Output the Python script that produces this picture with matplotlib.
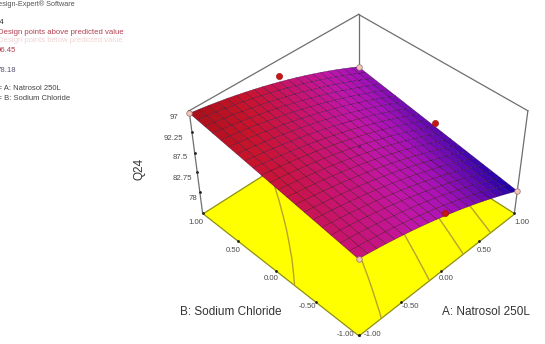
import numpy as np
import matplotlib
matplotlib.use("Agg")
import matplotlib.pyplot as plt
from matplotlib.colors import LinearSegmentedColormap
from mpl_toolkits.mplot3d import proj3d
from mpl_toolkits.mplot3d.art3d import Poly3DCollection

plt.rcParams['font.family'] = ['Liberation Sans', 'DejaVu Sans']

natrosol = [-1.0, -0.9, -0.8, -0.7, -0.6, -0.5, -0.4, -0.3, -0.2, -0.1, 0.0,
            0.1, 0.2, 0.3, 0.4, 0.5, 0.6, 0.7, 0.8, 0.9, 1.0]
sodium = [-1.0, -0.9, -0.8, -0.7, -0.6, -0.5, -0.4, -0.3, -0.2, -0.1, 0.0,
          0.1, 0.2, 0.3, 0.4, 0.5, 0.6, 0.7, 0.8, 0.9, 1.0]
# Q24 response, one row per Natrosol level, one column per sodium chloride level
q24 = [
    [91.01, 91.28, 91.55, 91.82, 92.10, 92.37, 92.64, 92.91, 93.19, 93.46, 93.73, 94.00, 94.28, 94.55, 94.82, 95.09, 95.37, 95.64, 95.91, 96.18, 96.45],
    [90.65, 90.92, 91.20, 91.47, 91.75, 92.02, 92.30, 92.57, 92.85, 93.12, 93.40, 93.67, 93.95, 94.22, 94.50, 94.77, 95.05, 95.32, 95.60, 95.87, 96.15],
    [90.26, 90.54, 90.82, 91.09, 91.37, 91.65, 91.93, 92.20, 92.48, 92.76, 93.04, 93.31, 93.59, 93.87, 94.15, 94.42, 94.70, 94.98, 95.26, 95.53, 95.81],
    [89.85, 90.13, 90.41, 90.69, 90.97, 91.25, 91.52, 91.80, 92.08, 92.36, 92.64, 92.92, 93.20, 93.48, 93.76, 94.04, 94.32, 94.60, 94.88, 95.16, 95.44],
    [89.40, 89.68, 89.96, 90.25, 90.53, 90.81, 91.09, 91.38, 91.66, 91.94, 92.22, 92.50, 92.79, 93.07, 93.35, 93.63, 93.92, 94.20, 94.48, 94.76, 95.05],
    [88.92, 89.21, 89.49, 89.78, 90.06, 90.35, 90.63, 90.92, 91.20, 91.49, 91.77, 92.05, 92.34, 92.62, 92.91, 93.19, 93.48, 93.76, 94.05, 94.33, 94.62],
    [88.42, 88.70, 88.99, 89.28, 89.57, 89.85, 90.14, 90.43, 90.71, 91.00, 91.29, 91.58, 91.86, 92.15, 92.44, 92.72, 93.01, 93.30, 93.59, 93.87, 94.16],
    [87.88, 88.17, 88.46, 88.75, 89.04, 89.33, 89.62, 89.91, 90.20, 90.49, 90.78, 91.07, 91.36, 91.65, 91.94, 92.22, 92.51, 92.80, 93.09, 93.38, 93.67],
    [87.31, 87.60, 87.90, 88.19, 88.48, 88.77, 89.06, 89.36, 89.65, 89.94, 90.23, 90.53, 90.82, 91.11, 91.40, 91.69, 91.99, 92.28, 92.57, 92.86, 93.16],
    [86.72, 87.01, 87.31, 87.60, 87.89, 88.19, 88.48, 88.78, 89.07, 89.37, 89.66, 89.96, 90.25, 90.55, 90.84, 91.13, 91.43, 91.72, 92.02, 92.31, 92.61],
    [86.09, 86.39, 86.68, 86.98, 87.28, 87.58, 87.87, 88.17, 88.47, 88.76, 89.06, 89.36, 89.65, 89.95, 90.25, 90.55, 90.84, 91.14, 91.44, 91.73, 92.03],
    [85.43, 85.73, 86.03, 86.33, 86.63, 86.93, 87.23, 87.53, 87.83, 88.13, 88.43, 88.73, 89.03, 89.33, 89.63, 89.93, 90.22, 90.52, 90.82, 91.12, 91.42],
    [84.75, 85.05, 85.35, 85.65, 85.96, 86.26, 86.56, 86.86, 87.16, 87.46, 87.77, 88.07, 88.37, 88.67, 88.97, 89.28, 89.58, 89.88, 90.18, 90.48, 90.79],
    [84.03, 84.34, 84.64, 84.94, 85.25, 85.55, 85.86, 86.16, 86.47, 86.77, 87.07, 87.38, 87.68, 87.99, 88.29, 88.60, 88.90, 89.20, 89.51, 89.81, 90.12],
    [83.28, 83.59, 83.90, 84.20, 84.51, 84.82, 85.12, 85.43, 85.74, 86.04, 86.35, 86.66, 86.97, 87.27, 87.58, 87.89, 88.19, 88.50, 88.81, 89.11, 89.42],
    [82.51, 82.82, 83.13, 83.44, 83.74, 84.05, 84.36, 84.67, 84.98, 85.29, 85.60, 85.91, 86.22, 86.53, 86.84, 87.15, 87.46, 87.76, 88.07, 88.38, 88.69],
    [81.70, 82.01, 82.32, 82.64, 82.95, 83.26, 83.57, 83.88, 84.20, 84.51, 84.82, 85.13, 85.44, 85.75, 86.07, 86.38, 86.69, 87.00, 87.31, 87.62, 87.94],
    [80.86, 81.18, 81.49, 81.81, 82.12, 82.44, 82.75, 83.06, 83.38, 83.69, 84.01, 84.32, 84.63, 84.95, 85.26, 85.58, 85.89, 86.20, 86.52, 86.83, 87.15],
    [80.00, 80.31, 80.63, 80.95, 81.26, 81.58, 81.90, 82.21, 82.53, 82.85, 83.16, 83.48, 83.80, 84.11, 84.43, 84.75, 85.06, 85.38, 85.70, 86.01, 86.33],
    [79.10, 79.42, 79.74, 80.06, 80.38, 80.69, 81.01, 81.33, 81.65, 81.97, 82.29, 82.61, 82.93, 83.25, 83.57, 83.89, 84.21, 84.53, 84.85, 85.17, 85.48],
    [78.18, 78.50, 78.82, 79.14, 79.46, 79.78, 80.10, 80.43, 80.75, 81.07, 81.39, 81.71, 82.03, 82.35, 82.68, 83.00, 83.32, 83.64, 83.96, 84.28, 84.61],
]
contour_levels = [81.2, 84.1, 87.0, 90.0, 93.1]
z_ticks = [78, 82.75, 87.5, 92.25, 97]
xy_ticks = [-1.0, -0.5, 0.0, 0.5, 1.0]
z_floor = 72.5
z_top = 97.0

above_a = [0.0, 1.0, 0.0]
above_b = [1.0, 0.0, -1.0]
above_q = [93.4, 82.2, 86.8]
below_a = [-1.0, 1.0, -1.0, 1.0]
below_b = [1.0, -1.0, -1.0, 1.0]
below_q = [96.45, 78.18, 90.9, 84.5]
center_a = [0.0]
center_b = [0.0]
center_q = [89.1]

W, H = 545, 344
fig = plt.figure(figsize=(W / 100, H / 100), dpi=100, facecolor='white')
ax = fig.add_axes([0.1, 0.1, 400 / W, 400 / H], projection='3d', computed_zorder=False)
ax.set_xlim(-1, 1, view_margin=0)
ax.set_ylim(-1, 1, view_margin=0)
ax.set_zlim(z_floor, z_top, view_margin=0)
ax.set_box_aspect((1, 1, 0.6))
ax.view_init(elev=42, azim=-135)
ax.set_proj_type('persp', focal_length=0.6)
ax.set_axis_off()
ax.patch.set_alpha(0)

GREY = '#6e6e6e'
EDGE = '#8f8f10'

# Floor plate and the contours projected onto it
floor = Poly3DCollection([[(-1, -1, z_floor), (1, -1, z_floor), (1, 1, z_floor), (-1, 1, z_floor)]],
                         facecolor='#ffff00', edgecolor=EDGE, linewidth=0.9, zorder=1)
ax.add_collection3d(floor)
A, B = np.meshgrid(natrosol, sodium, indexing='ij')
Z = np.array(q24)
ax.contour(A, B, Z, levels=contour_levels, zdir='z', offset=z_floor,
           colors='#b9a22c', linewidths=1.0, zorder=2)

# Back frame of the box
for xs, ys, zs in [
    ((-1, -1), (1, 1), (z_floor, z_top)),
    ((1, 1), (-1, -1), (z_floor, z_top)),
    ((1, 1), (1, 1), (z_floor, z_top)),
    ((-1, 1), (1, 1), (z_top, z_top)),
    ((1, 1), (-1, 1), (z_top, z_top)),
]:
    ax.plot(xs, ys, zs, color=GREY, lw=0.9, zorder=1.5)

# Tick marks on the frame and floor edges
n = len(xy_ticks)
ax.scatter([-1] * len(z_ticks), [1] * len(z_ticks), z_ticks, s=4, c='#222222', depthshade=False, zorder=2.5, linewidths=0)
ax.scatter([-1] * n, xy_ticks, [z_floor] * n, s=4, c='#222222', depthshade=False, zorder=2.5, linewidths=0)
ax.scatter(xy_ticks, [-1] * n, [z_floor] * n, s=4, c='#222222', depthshade=False, zorder=2.5, linewidths=0)

# Response surface
cmap = LinearSegmentedColormap.from_list('q24', [
    (0.0, '#1400a8'), (0.18, '#5a08b0'), (0.4, '#a812b8'), (0.55, '#c016a8'),
    (0.72, '#c81470'), (0.88, '#c8142c'), (1.0, '#a81018')])
ax.plot_surface(A, B, Z, rstride=1, cstride=1, cmap=cmap, vmin=78.18, vmax=96.45,
                edgecolor='#20002a', linewidth=0.2, antialiased=True, shade=False, zorder=3)

# Design points
ax.scatter(above_a, above_b, above_q, s=20, c='#c81414', edgecolors='#901010', linewidths=0.4,
           depthshade=False, zorder=5)
ax.scatter(below_a, below_b, below_q, s=16, c='#f4c4b8', edgecolors='#8a7070', linewidths=0.5,
           depthshade=False, zorder=5)
ax.scatter(center_a, center_b, center_q, s=6, c='#7a1070', linewidths=0, depthshade=False, zorder=5)

for artist in list(ax.collections) + list(ax.lines):
    artist.set_clip_on(False)

# Place the box on the page so its corners sit as close as possible to where they belong
box_x = np.array([-1., 1., -1., -1., 1., 1.])
box_y = np.array([1., -1., -1., 1., -1., 1.])
box_z = np.array([z_floor, z_floor, z_floor, z_top, z_top, z_top])
goal = np.array([(208, H - 217), (509, H - 217), (358, H - 328),
                 (183, H - 114), (534, H - 113), (359, H - 9)], float)

def corners_px():
    fig.canvas.draw()
    x, y, _ = proj3d.proj_transform(box_x, box_y, box_z, ax.get_proj())
    return ax.transData.transform(np.column_stack([x, y]))

side = 400.0
p = corners_px()
pc = p - p.mean(axis=0)
gc = goal - goal.mean(axis=0)
side *= (pc * gc).sum() / (pc * pc).sum()
ax.set_position([0.1, 0.1, side / W, side / H])
p = corners_px()
shift = goal.mean(axis=0) - p.mean(axis=0)
ax.set_position([0.1 + shift[0] / W, 0.1 + shift[1] / H, side / W, side / H])

def label(x, y, s, size=5.6, color='#4a4a4a', ha='center', **kw):
    fig.text(x / W, 1 - y / H, s, fontsize=size, color=color, ha=ha, va='center', **kw)

# Left-hand legend block, running off the page edge
label(-7, 4, 'Design-Expert® Software', ha='left', size=5.2, color='#555555')
label(-10, 22, 'Q24', ha='left', size=5.6, color='#333333')
label(-2, 32, 'Design points above predicted value', ha='left', size=5.6, color='#b04050')
label(-2, 41, 'Design points below predicted value', ha='left', size=5.6, color='#f0d4d4')
label(-3, 51, '96.45', ha='left', size=5.6, color='#b04050')
label(-3, 70, '78.18', ha='left', size=5.6, color='#555570')
label(-14, 88, 'X1 = A: Natrosol 250L', ha='left', size=5.5, color='#444444')
label(-14, 98, 'X2 = B: Sodium Chloride', ha='left', size=5.5, color='#444444')

# Tick labels
for (x, y, s) in [(174, 118, '97'), (173, 138, '92.25'), (180, 158, '87.5'),
                  (182.5, 178.5, '82.75'), (193, 199, '78'),
                  (196, 222, '1.00'), (233, 250, '0.50'), (271, 278, '0.00'),
                  (307, 306, '-0.50'), (345, 334, '-1.00'),
                  (372, 334, '-1.00'), (410, 306, '-0.50'), (446, 278, '0.00'),
                  (484, 250, '0.50'), (522, 222, '1.00')]:
    label(x, y, s)

# Axis titles
label(231, 312, 'B: Sodium Chloride', size=8.5, color='#333333')
label(486, 312, 'A: Natrosol 250L', size=8.5, color='#333333')
label(140, 169, 'Q24', size=8.5, color='#333333', rotation=90)

fig.savefig('out.png', dpi=100)
